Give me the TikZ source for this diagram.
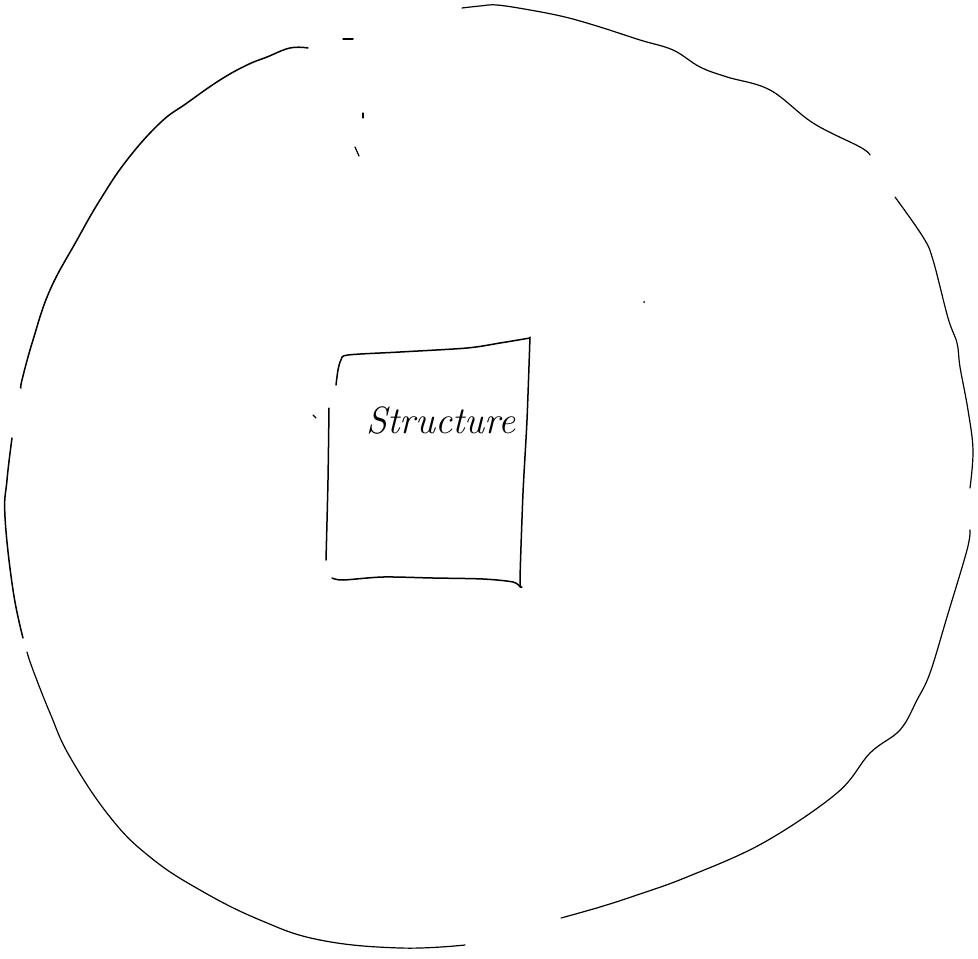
\documentclass[tikz,border=0pt]{standalone}
\begin{document}
\begin{tikzpicture}[x=1pt,y=-1pt,
  pen/.style={line width=1.5pt,line cap=round,line join=round,black},
  thinpen/.style={line width=1.2pt,line cap=round,line join=round,black},
  label/.style={font=\fontsize{38}{44}\selectfont\itshape,inner sep=0pt}]
\useasboundingbox (0,0) rectangle (978,959);
\fill[white] (0,0) rectangle (978,959);

% --- outer circle, drawn as hand strokes with gaps ---
% top-left arc
\draw[pen] plot[smooth,tension=0.7] coordinates {
  (308,48) (290,48) (267,57) (247,65) (220,80) (187,103) (160,123)
  (127,160) (100,200) (77,240) (50,290) (33,340) (22,380) (21,388)};
% left side
\draw[pen] plot[smooth,tension=0.7] coordinates {
  (12,438) (7,480) (5,517) (13,590) (23,638)};
% bottom-left arc
\draw[thinpen] plot[smooth,tension=0.7] coordinates {
  (27,652) (33,670) (50,713) (70,757) (110,817) (150,857) (200,890)
  (260,920) (320,940) (400,948) (465,945)};
% bottom-right arc
\draw[thinpen] plot[smooth,tension=0.6] coordinates {
  (561,918) (600,907) (637,895) (687,877) (763,843) (837,793)
  (870,753) (900,730) (917,700) (930,673) (947,617) (967,550) (970,530)};
% right side
\draw[thinpen] plot[smooth,tension=0.6] coordinates {
  (970,488) (973,450) (968,410) (960,367) (957,343) (948,318)
  (933,260) (923,237) (895,197)};
% top arc
\draw[thinpen] plot[smooth,tension=0.6] coordinates {
  (462,8) (480,6) (497,5) (530,10) (565,17) (600,27) (640,40)
  (673,50) (700,67) (727,77) (770,90) (813,123) (860,147) (870,155)};

% stray marks
\draw[pen] (343,39) -- (353,39);
\draw[thinpen] (363,113) -- (363,118);
\draw[thinpen] (355,147) -- (359,156);
\fill (644,302) circle (1pt);

% --- inner rectangle ---
\draw[pen] plot[smooth,tension=0.5] coordinates {
  (336,385) (338,370) (341,360) (348,355) (400,352) (467,348) (500,343) (530,338)};
\draw[pen] plot[smooth,tension=0.4] coordinates {
  (530,337) (527,420) (523,493) (520,580) (522,587)};
\draw[pen] plot[smooth,tension=0.5] coordinates {
  (332,578) (343,580) (383,577) (433,578) (483,579) (513,582) (520,587)};
\draw[pen] plot[smooth,tension=0.4] coordinates {
  (329,408) (328,480) (326,560)};
\draw[thinpen] (313,415) -- (316,418);

\node[label] (structure) at (441,421) {Structure};
\end{tikzpicture}
\end{document}
